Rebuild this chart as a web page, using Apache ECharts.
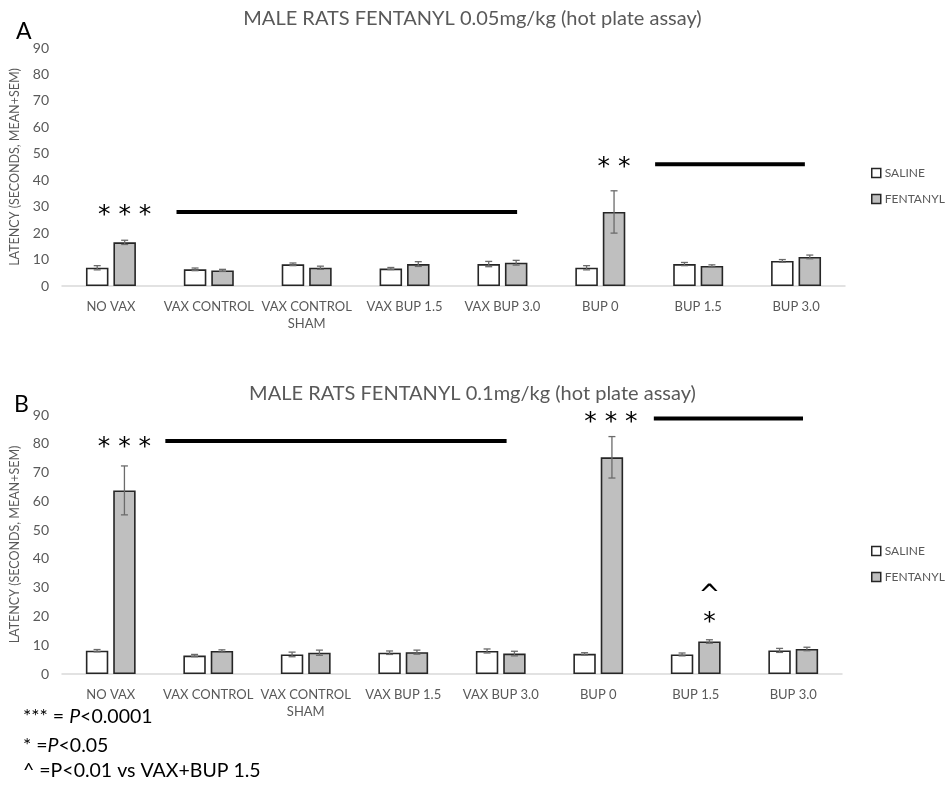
<!DOCTYPE html>
<html>
<head>
<meta charset="utf-8">
<script src="https://cdn.jsdelivr.net/npm/echarts@6/dist/echarts.min.js"></script>
<style>html,body{margin:0;padding:0;background:#fff}#c{width:945px;height:785px}</style>
</head>
<body>
<div id="c"></div>
<script>
const categories = ['NO VAX','VAX CONTROL','VAX CONTROL\nSHAM','VAX BUP 1.5','VAX BUP 3.0','BUP 0','BUP 1.5','BUP 3.0'];
const yTicks = [0,10,20,30,40,50,60,70,80,90];

// Panel A: 0.05 mg/kg
const A_saline    = [6.9, 6.3, 8.2, 6.6, 8.3, 6.9, 8.3, 9.5];
const A_salineErr = [0.8, 0.5, 0.5, 0.4, 1.0, 0.8, 0.6, 0.5];
const A_fent      = [16.5, 5.9, 6.9, 8.3, 8.8, 28.0, 7.6, 11.0];
const A_fentErr   = [0.8, 0.4, 0.6, 0.9, 0.9, 8.0, 0.4, 0.7];
// significance lines [xStart, xEnd, y] on a 0..8 category-span scale
const A_lines = [[1.17, 4.65, 28], [6.06, 7.59, 46]];
// significance marks [text, x, y]
const A_marks = [['* * *', 0.64, 28.5], ['* *', 5.64, 46.6]];

// Panel B: 0.1 mg/kg
const B_saline    = [8.1, 6.4, 6.8, 7.4, 8.0, 7.0, 6.8, 8.2];
const B_salineErr = [0.4, 0.4, 0.8, 0.6, 0.7, 0.4, 0.5, 0.7];
const B_fent      = [63.8, 8.0, 7.4, 7.6, 7.1, 75.3, 11.3, 8.7];
const B_fentErr   = [8.5, 0.4, 0.9, 0.7, 0.8, 7.2, 0.6, 0.6];
const B_lines = [[1.06, 4.56, 81], [6.07, 7.6, 88.8]];
const B_marks = [['* * *', 0.64, 80.3], ['* * *', 5.63, 89], ['^', 6.64, 30], ['*', 6.64, 19.5]];

const FONT = 'Lato';
const GRAY = '#595959';
const BAR_W = 0.23, BAR_GAP = 0.22;

const chart = echarts.init(document.getElementById('c'));

function errData(vals, errs){ return vals.map((v,i)=>[i, v-errs[i], v+errs[i]]); }
function errSeries(name, vals, errs, sign, axis){
  return {
    type:'custom', name:name+'_err', xAxisIndex:axis, yAxisIndex:axis, z:5,
    data: errData(vals, errs), silent:true,
    renderItem:function(params, api){
      const x = api.value(0);
      const lo = api.coord([x, api.value(1)]);
      const hi = api.coord([x, api.value(2)]);
      const bw = api.size([1,0])[0];
      const off = sign * bw * (BAR_W + BAR_W*BAR_GAP) / 2;
      const cx = lo[0] + off, c = 3.5;
      const st = {stroke:'#6b6b6b', lineWidth:1.3};
      return {type:'group', children:[
        {type:'line', shape:{x1:cx,y1:lo[1],x2:cx,y2:hi[1]}, style:st},
        {type:'line', shape:{x1:cx-c,y1:lo[1],x2:cx+c,y2:lo[1]}, style:st},
        {type:'line', shape:{x1:cx-c,y1:hi[1],x2:cx+c,y2:hi[1]}, style:st}
      ]};
    }
  };
}
function lineSeries(lines, xAxis, yAxis){
  return {
    type:'custom', xAxisIndex:xAxis, yAxisIndex:yAxis, silent:true, z:6,
    data: lines,
    renderItem:function(params, api){
      const a = api.coord([api.value(0), api.value(2)]);
      const b = api.coord([api.value(1), api.value(2)]);
      return {type:'line', shape:{x1:a[0],y1:a[1],x2:b[0],y2:b[1]}, style:{stroke:'#000', lineWidth:4}};
    }
  };
}
function markSeries(marks, xAxis, yAxis){
  return {
    type:'custom', xAxisIndex:xAxis, yAxisIndex:yAxis, silent:true, z:6,
    data: marks.map(m=>[m[1], m[2]]),
    renderItem:function(params, api){
      const p = api.coord([api.value(0), api.value(1)]);
      const t = marks[params.dataIndex][0];
      const isCaret = t === '^';
      return {type:'text', x:p[0], y:p[1] + (isCaret ? 9 : 5),
        style:{text:t, fill:'#000', font:(isCaret ? '26px' : '25px') + ' "DejaVu Sans"', align:'center', verticalAlign:'middle'}};
    }
  };
}
function barSeries(name, vals, color, axis){
  return {
    type:'bar', name:name, xAxisIndex:axis, yAxisIndex:axis, data:vals,
    barWidth:(BAR_W*100)+'%', barGap:(BAR_GAP*100)+'%',
    itemStyle:{color:color, borderColor:'#262626', borderWidth:1.6},
    emphasis:{disabled:true}
  };
}

const grids = [
  {left:61, right:100, top:48, height:238},
  {left:61, right:103, top:415, height:259}
];
function catAxis(g){
  return {type:'category', gridIndex:g, data:categories,
    axisLine:{lineStyle:{color:'#d9d9d9', width:1.5}}, axisTick:{show:false},
    axisLabel:{color:GRAY, fontFamily:FONT, fontSize:13, interval:0, margin:12, lineHeight:17}};
}
function valXAxis(g){
  return {type:'value', gridIndex:g, min:0, max:8, show:false};
}
function yAxis(g){
  return {type:'value', gridIndex:g, min:yTicks[0], max:yTicks[yTicks.length-1], interval:10,
    splitLine:{show:false}, axisLine:{show:false}, axisTick:{show:false},
    axisLabel:{color:GRAY, fontFamily:FONT, fontSize:14, margin:13},
    name:'LATENCY (SECONDS, MEAN+SEM)', nameLocation:'middle', nameRotate:90, nameGap:41,
    nameTextStyle:{color:GRAY, fontFamily:FONT, fontSize:12.5}};
}
function legend(top){
  return {orient:'vertical', left:866, top:top, itemWidth:9, itemHeight:9, itemGap:14,
    icon:'rect', textStyle:{color:GRAY, fontFamily:FONT, fontSize:12, padding:[0,0,0,-1]},
    selectedMode:false,
    data:[{name:'SALINE', itemStyle:{color:'#fff', borderColor:'#262626', borderWidth:1.5}},
          {name:'FENTANYL', itemStyle:{color:'#bfbfbf', borderColor:'#262626', borderWidth:1.5}}]};
}
const noteRich = {i:{fontStyle:'italic', fontFamily:'Lato', fontSize:19.5, fill:'#000'}};

chart.setOption({
  animation:false,
  title:[
    {text:'MALE RATS FENTANYL 0.05mg/kg (hot plate assay)', left:'center', top:4, textStyle:{color:GRAY, fontFamily:FONT, fontSize:20, fontWeight:'normal'}},
    {text:'MALE RATS FENTANYL 0.1mg/kg (hot plate assay)', left:'center', top:379, textStyle:{color:GRAY, fontFamily:FONT, fontSize:20, fontWeight:'normal'}},
    {text:'A', left:11, top:15, textStyle:{color:'#000', fontFamily:FONT, fontSize:23, fontWeight:'normal'}},
    {text:'B', left:9, top:388, textStyle:{color:'#000', fontFamily:FONT, fontSize:23, fontWeight:'normal'}}
  ],
  grid:grids,
  xAxis:[catAxis(0), catAxis(1), valXAxis(0), valXAxis(1)],
  yAxis:[yAxis(0), yAxis(1)],
  legend:[legend(162), legend(540)],
  series:[
    barSeries('SALINE', A_saline, '#ffffff', 0),
    barSeries('FENTANYL', A_fent, '#bfbfbf', 0),
    barSeries('SALINE', B_saline, '#ffffff', 1),
    barSeries('FENTANYL', B_fent, '#bfbfbf', 1),
    errSeries('SALINE', A_saline, A_salineErr, -1, 0),
    errSeries('FENTANYL', A_fent, A_fentErr, 1, 0),
    errSeries('SALINE', B_saline, B_salineErr, -1, 1),
    errSeries('FENTANYL', B_fent, B_fentErr, 1, 1),
    lineSeries(A_lines, 2, 0),
    lineSeries(B_lines, 3, 1),
    markSeries(A_marks, 2, 0),
    markSeries(B_marks, 3, 1)
  ],
  graphic:[
    {type:'text', left:23, top:707, style:{text:'*** = {i|P}<0.0001', fill:'#000', font:'19.5px Lato', rich:noteRich}},
    {type:'text', left:23, top:736, style:{text:'* ={i|P}<0.05', fill:'#000', font:'19.5px Lato', rich:noteRich}},
    {type:'text', left:23, top:761, style:{text:'^ =P<0.01 vs VAX+BUP 1.5', fill:'#000', font:'19.5px Lato'}}
  ]
});
</script>
</body>
</html>
